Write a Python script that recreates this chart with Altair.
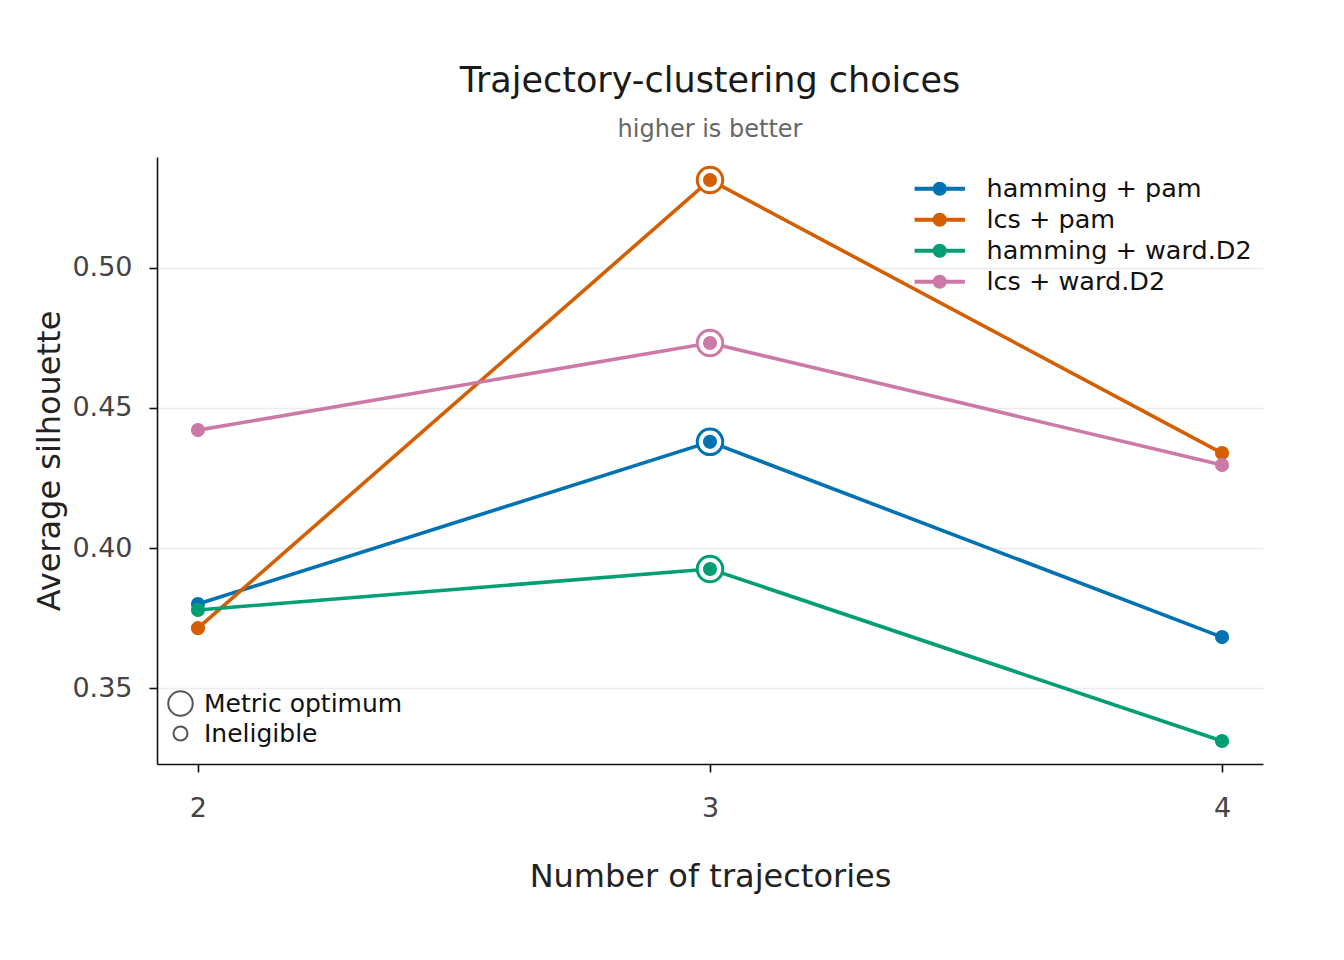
import altair as alt
import pandas as pd

methods = ["hamming + pam", "lcs + pam", "hamming + ward.D2", "lcs + ward.D2"]
colors = ["#0072B2", "#D55E00", "#009E73", "#CC79A7"]
ks = [2, 3, 4]
hamming_pam = [0.380, 0.4379, 0.3682]
lcs_pam = [0.3714, 0.5314, 0.4339]
hamming_ward = [0.3779, 0.3925, 0.3311]
lcs_ward = [0.4421, 0.4732, 0.4296]
optimum_k = [3, 3, 3, 3]
marker_types = ["Metric optimum", "Ineligible"]

series = [hamming_pam, lcs_pam, hamming_ward, lcs_ward]
rows = []
for m, vals in zip(methods, series):
    for k, v in zip(ks, vals):
        rows.append({"method": m, "k": k, "sil": v})
df = pd.DataFrame(rows)

opt_rows = []
for m, vals, ko in zip(methods, series, optimum_k):
    opt_rows.append({"method": m, "k": ko, "sil": vals[ks.index(ko)], "marker": marker_types[0]})
dfo = pd.DataFrame(opt_rows)

FONT = "DejaVu Sans"
xscale = alt.Scale(domain=[1.92, 4.08], nice=False, zero=False)
yscale = alt.Scale(domain=[0.3229, 0.5396], nice=False, zero=False)
cscale = alt.Scale(domain=methods, range=colors)
# same mapping, listed in reverse so the (legend-less) stroke scale stays separate from the colour legend
sscale = alt.Scale(domain=methods[::-1], range=colors[::-1])

x = alt.X("k:Q", scale=xscale, axis=alt.Axis(values=ks, format="d", title="Number of trajectories",
                                            grid=False, labelPadding=23, titlePadding=40))
y = alt.Y("sil:Q", scale=yscale, axis=alt.Axis(values=[0.35, 0.40, 0.45, 0.50], format=".2f",
                                              title="Average silhouette", grid=True, labelPadding=17,
                                              titlePadding=5))

leg_path = "M-3.6,-0.28L3.6,-0.28L3.6,0.28L-3.6,0.28Z M1,0A1,1,0,1,1,-1,0A1,1,0,1,1,1,0Z"

lines = alt.Chart(df).mark_line(strokeWidth=3.6).encode(
    x=x, y=y, stroke=alt.Stroke("method:N", scale=sscale, legend=None), detail="method:N"
)

marker_legend = alt.Chart(dfo).mark_point(filled=False, shape="circle", color="#555555",
                                          strokeWidth=2, opacity=0).encode(
    x=x, y=y,
    size=alt.Size("marker:O", scale=alt.Scale(domain=marker_types, range=[600, 196]),
                  legend=alt.Legend(title=None, orient="none", legendX=10, legendY=533,
                                    labelFont=FONT, labelFontSize=25, labelColor="#111",
                                    labelOffset=10, rowPadding=1, labelLimit=400,
                                    symbolType="circle", symbolOpacity=1,
                                    symbolStrokeColor="#555555", symbolStrokeWidth=2)),
)

rings = alt.Chart(dfo).mark_circle(fill="white", fillOpacity=1, strokeWidth=3, opacity=1, size=650).encode(
    x=x, y=y,
    stroke=alt.Stroke("method:N", scale=sscale, legend=None),
)

dots = alt.Chart(df).mark_circle(size=200, opacity=1).encode(
    x=x, y=y,
    color=alt.Color("method:N", scale=cscale,
                    legend=alt.Legend(title=None, orient="none", legendX=770, legendY=19,
                                      symbolType=leg_path, symbolSize=196, symbolStrokeWidth=0,
                                      labelFont=FONT, labelFontSize=25.5, labelColor="#111",
                                      labelOffset=34, rowPadding=4, symbolOpacity=1,
                                      labelLimit=400)),
)

chart = alt.layer(lines, marker_legend, rings, dots).properties(
    width=1106, height=607,
    title=alt.TitleParams("Trajectory-clustering choices", subtitle="higher is better",
                          font=FONT, fontSize=35, fontWeight="normal", color="#1a1a1a",
                          subtitleFont=FONT, subtitleFontSize=24, subtitleColor="#666",
                          subtitlePadding=19, offset=15, anchor="middle"),
    autosize=alt.AutoSizeParams(type="none"),
    padding={"left": 149, "top": 149, "right": 73, "bottom": 180},
).configure_view(stroke=None).configure_axis(
    labelFont=FONT, labelFontSize=27, labelColor="#444",
    titleFont=FONT, titleFontSize=32, titleFontWeight="normal", titleColor="#222",
    domainColor="#111", domainWidth=1.6, tickColor="#111", tickWidth=1.6, tickSize=8,
    gridColor="#ececec", gridWidth=1.5,
)

chart.save("out.html", embed_options={"renderer": "svg", "actions": False})
